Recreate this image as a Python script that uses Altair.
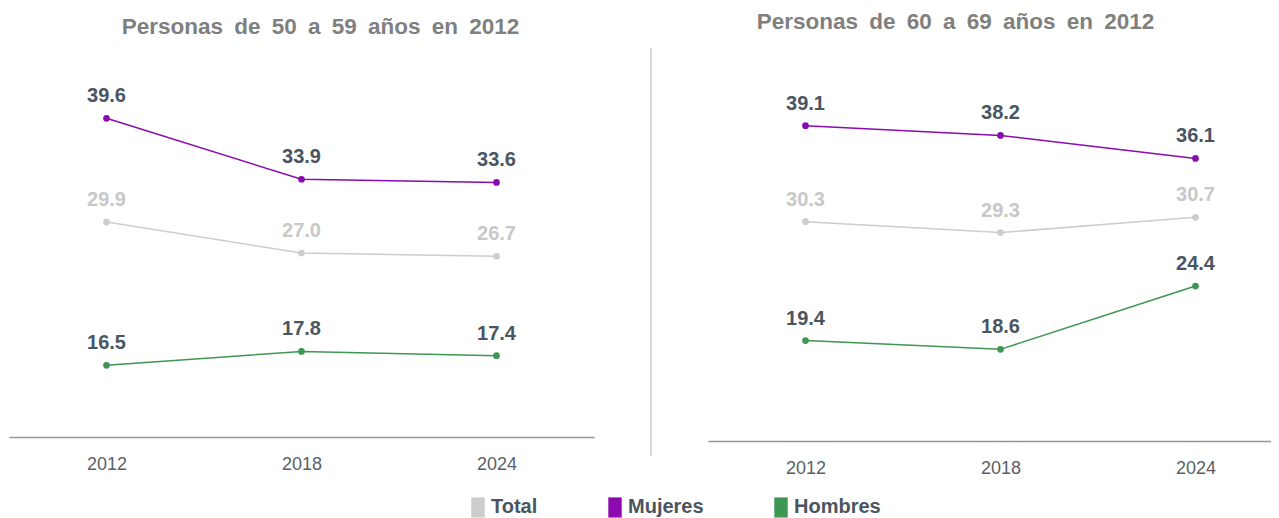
import altair as alt
import pandas as pd

years = ["2012", "2018", "2024"]
series = ["Total", "Mujeres", "Hombres"]
colors = ["#cdcdcd", "#8b0ab0", "#3d9752"]

left_total = [29.9, 27.0, 26.7]
left_mujeres = [39.6, 33.9, 33.6]
left_hombres = [16.5, 17.8, 17.4]

right_total = [30.3, 29.3, 30.7]
right_mujeres = [39.1, 38.2, 36.1]
right_hombres = [19.4, 18.6, 24.4]

left_title = "Personas de 50 a 59 años en 2012"
right_title = "Personas de 60 a 69 años en 2012"


def make_df(total, mujeres, hombres):
    rows = []
    for s, vals in zip(series, [total, mujeres, hombres]):
        for y, v in zip(years, vals):
            rows.append({"year": y, "serie": s, "value": v})
    return pd.DataFrame(rows)


color_scale = alt.Scale(domain=series, range=colors)
FONT = "Liberation Sans"


def panel(df, title, ydom, w, h, title_dx, xpad, xalign, divider=False):
    base = alt.Chart(df).encode(
        x=alt.X(
            "year:O",
            sort=years,
            scale=alt.Scale(type="point", padding=xpad, align=xalign),
            axis=alt.Axis(
                title=None, labelAngle=0, ticks=False, grid=False,
                domainColor="#8a99a8", domainWidth=1.5,
                labelFontSize=18, labelColor="#595f66", labelFont=FONT,
                labelPadding=18,
            ),
        ),
        y=alt.Y("value:Q", scale=alt.Scale(domain=ydom, nice=False, zero=False), axis=None),
        color=alt.Color(
            "serie:N", scale=color_scale, sort=series,
            legend=alt.Legend(
                title=None, orient="none", direction="horizontal",
                legendX=459, legendY=445,
                symbolType="M-1,-1.5L1,-1.5L1,1.5L-1,1.5Z",
                symbolSize=180, symbolStrokeWidth=0, symbolOpacity=1,
                labelFontSize=20, labelFontWeight="bold", labelColor="#4a5561",
                labelFont=FONT, columnPadding=67, labelOffset=3,
            ),
        ),
    )
    line = base.mark_line(strokeWidth=1.5)
    pts = base.mark_circle(size=45, opacity=1)
    txt = base.mark_text(
        dy=-16, baseline="alphabetic", fontSize=20, fontWeight="bold", font=FONT
    ).encode(
        text=alt.Text("value:Q", format=".1f"),
        color=alt.condition(alt.datum.serie == "Total", alt.value("#c8c8c8"), alt.value("#4a5561")),
    )
    layers = [line, pts, txt]
    if divider:
        rule = alt.Chart(pd.DataFrame({"d": [0]})).mark_rule(
            color="#c9cdd3", strokeWidth=1.5
        ).encode(x=alt.value(-57), y=alt.value(-4), y2=alt.value(404))
        layers.append(rule)
    return alt.layer(*layers).properties(
        width=w, height=h,
        title=alt.Title(
            title.replace(" ", "\u2002"), fontSize=22.5, fontWeight="bold", color="#7f7f7f",
            font=FONT, anchor="middle", frame="group", baseline="alphabetic", offset=-4,
            dx=title_dx,
        ),
    )


left = panel(make_df(left_total, left_mujeres, left_hombres), left_title,
             [9.8, 45.8], 585, 385, 19, 0.5, 0.5)
right = panel(make_df(right_total, right_mujeres, right_hombres), right_title,
              [10.2, 45.85], 563, 389, -34, 0.4436, 0.5636, divider=True)

chart = alt.hconcat(left, right, spacing=114, bounds="flush").properties(
    padding={"left": 1, "top": 2, "right": 0, "bottom": 0}
).configure_view(stroke=None)

chart.save("out.html", embed_options={"renderer": "svg", "actions": False})
